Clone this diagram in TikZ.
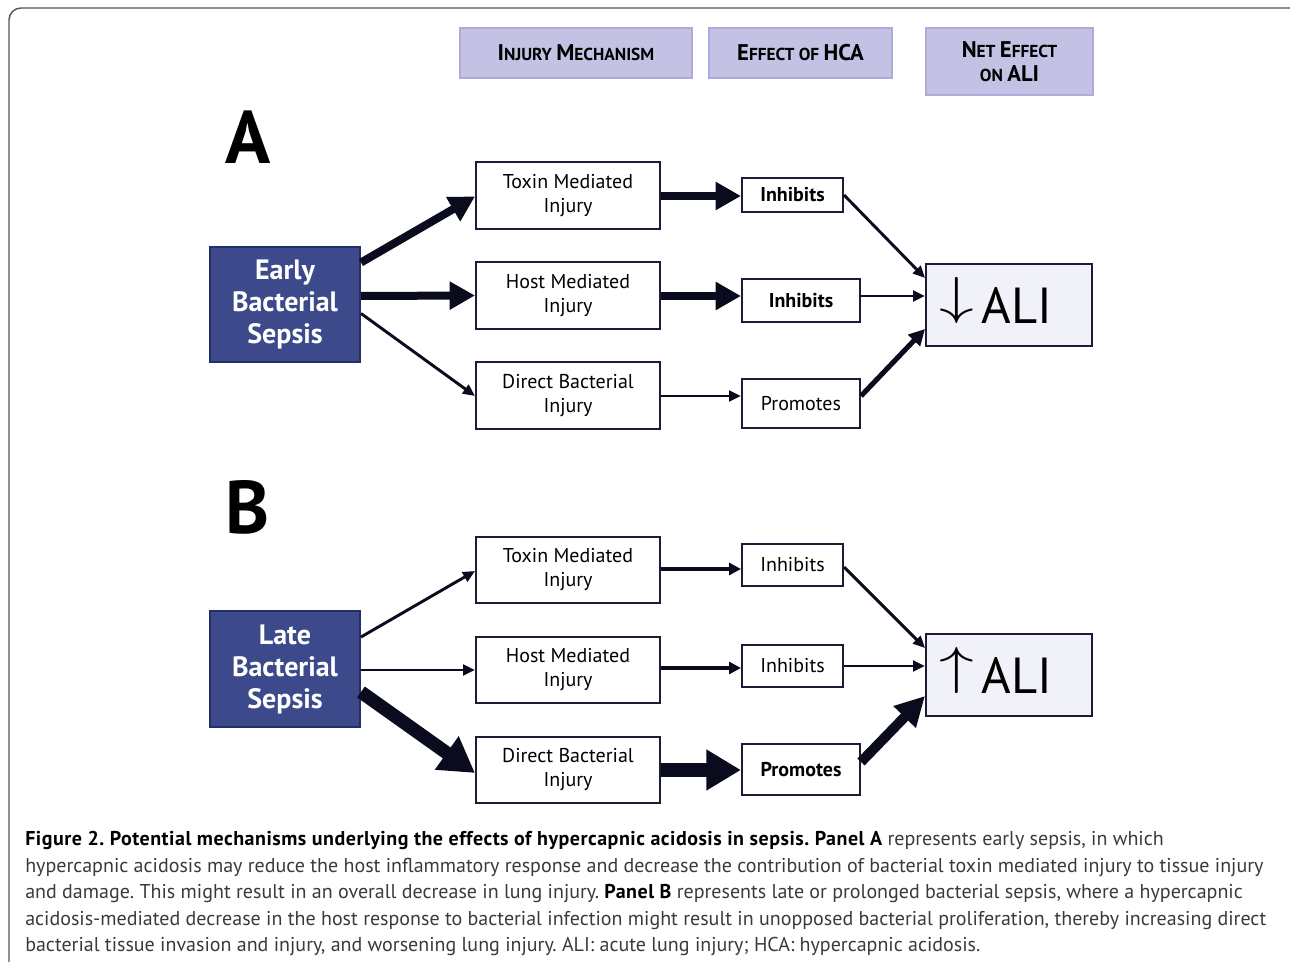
\documentclass[tikz,border=0pt]{standalone}
\usepackage{fontspec}
\usepackage{graphicx}
\setmainfont{PT Sans}
\usetikzlibrary{arrows.meta,calc}
\definecolor{hdrfill}{HTML}{C4C2E4}
\definecolor{hdrline}{HTML}{ADABDA}
\definecolor{sepfill}{HTML}{3C4A8C}
\definecolor{sepline}{HTML}{262E66}
\definecolor{boxline}{HTML}{1C1C3A}
\definecolor{alifill}{HTML}{F1F1F9}
\definecolor{arrowc}{HTML}{0B0B1E}
\definecolor{captxt}{HTML}{3A3A3A}
\definecolor{framec}{HTML}{555555}
\newcommand\hsc[2]{{\fontsize{17pt}{18pt}\selectfont #1}{\fontsize{13pt}{18pt}\selectfont #2}}
\newcommand\bigarrow[1]{\smash{\raisebox{7.5pt}{\scalebox{5.2}[3.9]{\fontsize{10pt}{12pt}\selectfont$#1$}}}\hspace{6pt}}
\newcommand\capbold[1]{\textcolor{black}{\bfseries\addfontfeature{LetterSpace=2.5}#1}}
\frenchspacing
\begin{document}
\begin{tikzpicture}[x=0.75pt,y=-0.75pt,
  hdr/.style={draw=hdrline,fill=hdrfill,line width=1.2pt,inner sep=0pt,align=center,font=\fontsize{13pt}{18pt}\selectfont\bfseries,text=black},
  sepbox/.style={draw=sepline,fill=sepfill,line width=1.5pt,inner sep=0pt,align=center,text=white,
    font=\fontsize{21pt}{24pt}\selectfont\bfseries,minimum width=112.5pt},
  injbox/.style={draw=boxline,fill=white,line width=1.5pt,inner sep=0pt,align=center,
    font=\fontsize{15pt}{18pt}\selectfont,minimum width=138pt,minimum height=50pt},
  effbox/.style={draw=boxline,fill=white,line width=1.5pt,inner sep=0pt,align=center,
    font=\fontsize{15pt}{18pt}\selectfont},
  alibox/.style={draw=boxline,fill=alifill,line width=1.5pt,inner sep=0pt,align=center,
    font=\fontsize{38pt}{42pt}\selectfont,minimum width=124.5pt,minimum height=61.5pt},
  bigletter/.style={font=\fontsize{56pt}{60pt}\selectfont\bfseries,inner sep=0pt},
  capline/.style={anchor=base west,inner sep=0pt,font=\fontsize{15pt}{18pt}\selectfont,text=captxt},
  thinarr/.style={draw=arrowc,line width=2.2pt,-{Triangle[length=9pt,width=8pt]}},
  medarr/.style={draw=arrowc,line width=2.8pt,-{Triangle[length=9pt,width=9pt]}},
  semiarr/.style={draw=arrowc,line width=3.8pt,-{Triangle[length=12pt,width=12pt]}},
  thickarr/.style={draw=arrowc,line width=6pt,-{Triangle[length=19pt,width=20pt]}},
  heavyarr/.style={draw=arrowc,line width=7.5pt,-{Triangle[length=22pt,width=22pt]}},
  hugearr/.style={draw=arrowc,line width=10pt,-{Triangle[length=26pt,width=29pt]}}
]
\useasboundingbox (0,0) rectangle (1290,962);
% outer frame
\draw[framec,line width=1.1pt,rounded corners=9pt] (1300,8) -- (9,8) -- (9,980);

% headers
\node[hdr,minimum width=174pt,minimum height=37.5pt] (h1) at (576,53) {\hsc{I}{NJURY} \hsc{M}{ECHANISM}};
\node[hdr,minimum width=137.25pt,minimum height=37.5pt] (h2) at (800.5,53) {\hsc{E}{FFECT OF} \hsc{HCA}{}};
\node[hdr,minimum width=125.25pt,minimum height=50.25pt] (h3) at (1009.5,61.5) {\hsc{N}{ET} \hsc{E}{FFECT}\\\hsc{}{ON} \hsc{ALI}{}};

% Panel A
\node[bigletter] (la) at (248,137) {A};
\node[sepbox,minimum height=86.25pt] (early) at (285,304.5) {Early\\Bacterial\\Sepsis};
\node[injbox] (toxa) at (568,195.5) {Toxin Mediated\\Injury};
\node[injbox] (hosta) at (568,295.5) {Host Mediated\\Injury};
\node[injbox] (dira) at (568,395.5) {Direct Bacterial\\Injury};
\node[effbox,minimum width=75.75pt,minimum height=25.5pt] (inha1) at (792.5,195) {\textbf{Inhibits}};
\node[effbox,minimum width=88.5pt,minimum height=32.25pt] (inha2) at (801,300.5) {\textbf{Inhibits}};
\node[effbox,minimum width=88.5pt,minimum height=36.75pt] (proa) at (801,403.5) {Promotes};
\node[alibox] (alia) at (1009,305) {\bigarrow{\downarrow}ALI\hspace{20pt}};

\draw[thickarr] ($(early.east)+(0,-42)$) -- ($(toxa.west)+(0,1)$);
\draw[thickarr] ($(early.east)+(0,-8.5)$) -- (hosta.west);
\draw[thinarr] ($(early.east)+(0,9)$) -- ($(dira.west)+(0,0.5)$);
\draw[thickarr] ($(toxa.east)+(0,0.5)$) -- ($(inha1.west)+(0,1)$);
\draw[thickarr] ($(hosta.east)+(0,0.5)$) -- ($(inha2.west)+(0,-4.5)$);
\draw[thinarr] ($(dira.east)+(0,0.5)$) -- ($(proa.west)+(0,-7.5)$);
\draw[thinarr] ($(inha1.east)+(0,0)$) -- ($(alia.west)+(0,-27)$);
\draw[thinarr] ($(inha2.east)+(0,-4.5)$) -- ($(alia.west)+(0,-9)$);
\draw[semiarr] ($(proa.east)+(0,-7.5)$) -- ($(alia.west)+(0,24)$);

% Panel B
\node[bigletter] (lb) at (248,507) {B};
\node[sepbox,minimum height=87pt] (late) at (285,669) {Late\\Bacterial\\Sepsis};
\node[injbox] (toxb) at (568,570) {Toxin Mediated\\Injury};
\node[injbox] (hostb) at (568,670) {Host Mediated\\Injury};
\node[injbox] (dirb) at (568,770) {Direct Bacterial\\Injury};
\node[effbox,minimum width=75.75pt,minimum height=31.5pt] (inhb1) at (792.5,565) {Inhibits};
\node[effbox,minimum width=75.75pt,minimum height=31.5pt] (inhb2) at (792.5,666) {Inhibits};
\node[effbox,minimum width=88.5pt,minimum height=38.25pt] (prob) at (801,769.5) {\textbf{Promotes}};
\node[alibox] (alib) at (1009,675) {\bigarrow{\uparrow}ALI\hspace{20pt}};

\draw[thinarr] ($(late.east)+(0,-32)$) -- ($(toxb.west)+(0,1)$);
\draw[thinarr] ($(late.east)+(0,1)$) -- (hostb.west);
\draw[hugearr] ($(late.east)+(0,23)$) -- ($(dirb.west)+(0,3)$);
\draw[medarr] ($(toxb.east)+(0,-1)$) -- ($(inhb1.west)+(0,4)$);
\draw[medarr] ($(hostb.east)+(0,-2)$) -- ($(inhb2.west)+(0,2)$);
\draw[hugearr] (dirb.east) -- ($(prob.west)+(0,0.5)$);
\draw[thinarr] ($(inhb1.east)+(0,2)$) -- ($(alib.west)+(0,-27)$);
\draw[thinarr] ($(inhb2.east)+(0,0)$) -- ($(alib.west)+(0,-9)$);
\draw[heavyarr] ($(prob.east)+(0,-7.5)$) -- ($(alib.west)+(0,21)$);

% caption
\node[capline] (cap1) at (25,845) {\capbold{Figure 2. Potential mechanisms underlying the effects of hypercapnic acidosis in sepsis. Panel A} represents early sepsis, in which};
\node[capline] (cap2) at (25,872) {hypercapnic acidosis may reduce the host inflammatory response and decrease the contribution of bacterial toxin mediated injury to tissue injury};
\node[capline] (cap3) at (25,898) {and damage. This might result in an overall decrease in lung injury. \capbold{Panel B} represents late or prolonged bacterial sepsis, where a hypercapnic};
\node[capline] (cap4) at (25,925) {acidosis-mediated decrease in the host response to bacterial infection might result in unopposed bacterial proliferation, thereby increasing direct};
\node[capline] (cap5) at (25,951) {bacterial tissue invasion and injury, and worsening lung injury. ALI: acute lung injury; HCA: hypercapnic acidosis.};
\end{tikzpicture}
\end{document}
